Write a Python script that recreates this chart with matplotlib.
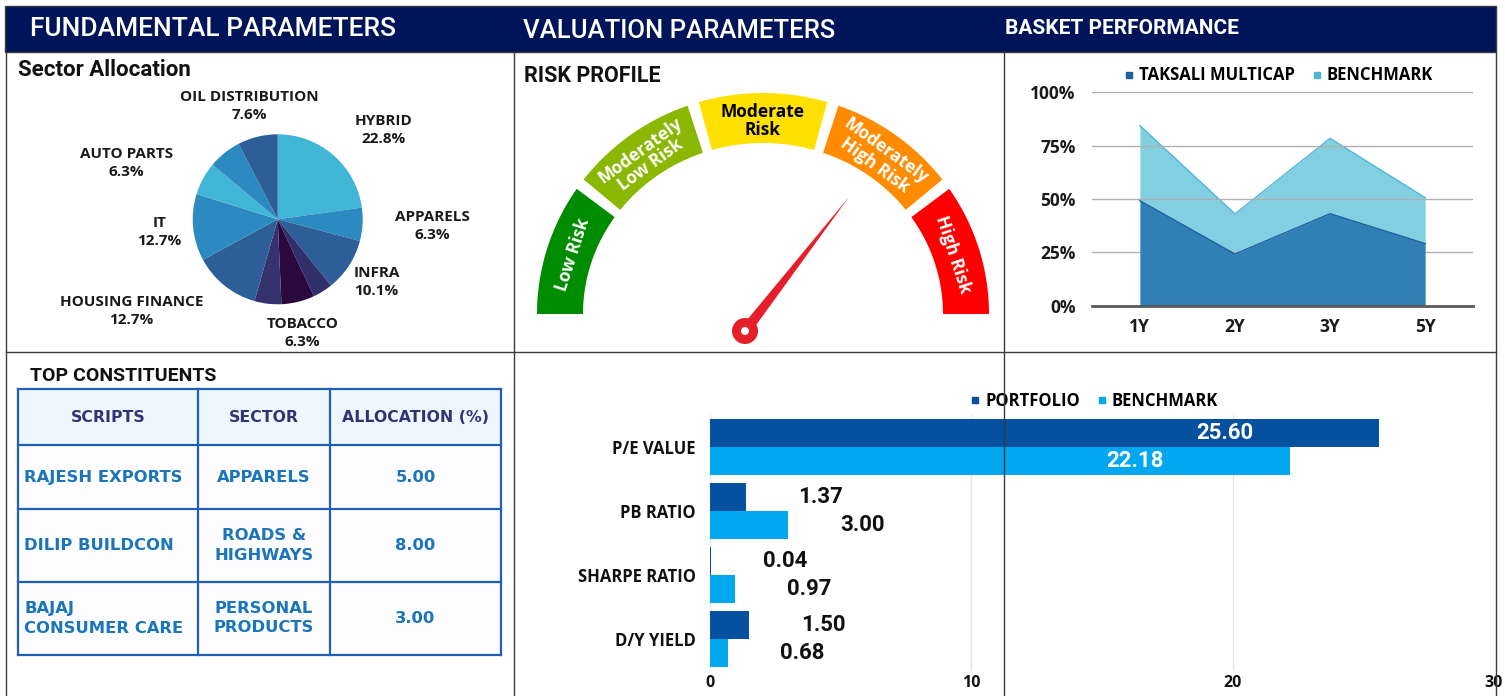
import matplotlib
matplotlib.use('Agg')
import matplotlib.pyplot as plt
from matplotlib.patches import Rectangle, Polygon, Circle
from matplotlib.lines import Line2D
import numpy as np

W, H = 1505, 696

# ---------------- data ----------------
sector_labels = ['HYBRID', 'APPARELS', 'INFRA', '', 'TOBACCO', '', 'HOUSING FINANCE',
                 'IT', 'AUTO PARTS', '', 'OIL DISTRIBUTION']
sector_values = [22.8, 6.3, 10.1, 3.8, 6.3, 5.1, 12.7, 12.7, 6.3, 6.3, 7.6]
sector_colors = ['#40B5D6', '#2C8AC0', '#2D5E97', '#31306A', '#2A0A3E', '#35336E',
                 '#2D5E97', '#2C8AC0', '#40B5D6', '#2C8AC0', '#2D5E97']

risk_levels = ['Low Risk', 'Moderately\nLow Risk', 'Moderate\nRisk',
               'Moderately\nHigh Risk', 'High Risk']
risk_colors = ['#008C00', '#8AB800', '#FFE000', '#FF8C00', '#FF0000']
risk_text_colors = ['white', 'white', 'black', 'white', 'white']
risk_value = 0.71   # needle position, fraction of the dial

perf_periods = ['1Y', '2Y', '3Y', '5Y']
taksali_perf = [49.2, 24.2, 43.1, 29.1]
benchmark_perf = [35.2, 18.8, 35.3, 21.5]

table_headers = ['SCRIPTS', 'SECTOR', 'ALLOCATION (%)']
scripts = ['RAJESH EXPORTS', 'DILIP BUILDCON', 'BAJAJ\nCONSUMER CARE']
script_sectors = ['APPARELS', 'ROADS &\nHIGHWAYS', 'PERSONAL\nPRODUCTS']
allocations = [5.00, 8.00, 3.00]

val_metrics = ['P/E VALUE', 'PB RATIO', 'SHARPE RATIO', 'D/Y YIELD']
portfolio_vals = [25.60, 1.37, 0.04, 1.50]
benchmark_vals = [22.18, 3.00, 0.97, 0.68]

# ---------------- fonts ----------------
FS = ['Open Sans', 'DejaVu Sans']
FR = ['Roboto', 'DejaVu Sans']
FT = ['DejaVu Sans']

fig = plt.figure(figsize=(W / 100, H / 100), dpi=100)
fig.patch.set_facecolor('white')


def px_axes(x0, y0, x1, y1):
    return fig.add_axes([x0 / W, 1 - y1 / H, (x1 - x0) / W, (y1 - y0) / H])


bg = fig.add_axes([0, 0, 1, 1])
bg.set_xlim(0, W)
bg.set_ylim(H, 0)
bg.axis('off')

# header band
bg.add_patch(Rectangle((5, 6), 1491, 46, facecolor='#00145A', edgecolor='#3a3a3a', lw=1))
bg.text(30, 29, 'FUNDAMENTAL PARAMETERS', color='white', fontsize=19, family=FR,
        fontweight='medium', va='center', ha='left')
bg.text(523, 31, 'VALUATION PARAMETERS', color='white', fontsize=18.5, family=FR,
        fontweight='medium', va='center', ha='left')
bg.text(1005, 29, 'BASKET PERFORMANCE', color='white', fontsize=15, family=FR,
        fontweight='bold', va='center', ha='left')

# section titles
bg.text(18, 70, 'Sector Allocation', fontsize=16, family=FR, fontweight='bold',
        va='center', ha='left', color='#111111')
bg.text(524, 76, 'RISK PROFILE', fontsize=15.5, family=FR, fontweight='bold',
        va='center', ha='left', color='#111111')
bg.text(30, 376, 'TOP CONSTITUENTS', fontsize=14, family=FR, fontweight='bold',
        va='center', ha='left', color='#111111')

# ---------------- pie ----------------
pax = px_axes(6, 53, 513, 351)
cx, cy = 277.7, H - 219.3
pax.pie(sector_values, colors=sector_colors, startangle=90, counterclock=False,
        center=(cx, cy), radius=85, wedgeprops=dict(linewidth=0))
pax.set_aspect('auto')
pax.set_xlim(6, 513)
pax.set_ylim(H - 351, H - 53)
pax.axis('off')
label_offsets = [(106, 89), (155, -7), (99, -63), None, (25, -114), None,
                 (-146, -92), (-118, -13), (-151, 56), None, (-28, 113)]
for name, v, off in zip(sector_labels, sector_values, label_offsets):
    if not name:
        continue
    pax.text(cx + off[0], cy + off[1], f'{name}\n{v:.1f}%', ha='center', va='center',
             fontsize=11, fontweight='bold', family=FS, color='#1a1a1a', linespacing=1.35)

# ---------------- gauge ----------------
gcx, gcy = 763, 314
rxo, ryo, rxi, ryi = 226, 221, 180, 171
bounds = np.linspace(180, 0, len(risk_levels) + 1)
half_gap = 1.5


def arc_poly(a0, a1, n=80):
    t = np.radians(np.linspace(a0, a1, n))
    outer = np.c_[gcx + rxo * np.cos(t), gcy - ryo * np.sin(t)]
    inner = np.c_[gcx + rxi * np.cos(t[::-1]), gcy - ryi * np.sin(t[::-1])]
    return np.vstack([outer, inner])


for i, (lab, col, tcol) in enumerate(zip(risk_levels, risk_colors, risk_text_colors)):
    a0 = bounds[i] - (half_gap if i > 0 else 0)
    a1 = bounds[i + 1] + (half_gap if i < len(risk_levels) - 1 else 0)
    bg.add_patch(Polygon(arc_poly(a0, a1), closed=True, facecolor=col, edgecolor='none'))
    am = (bounds[i] + bounds[i + 1]) / 2
    rm_x = (rxo + rxi) / 2 - 3
    rm_y = (ryo + ryi) / 2 - 3
    tx = gcx + rm_x * np.cos(np.radians(am))
    ty = gcy - rm_y * np.sin(np.radians(am))
    bg.text(tx, ty, lab, rotation=am - 90, rotation_mode='anchor', ha='center', va='center',
            color=tcol, fontsize=12.5, fontweight='bold', family=FS, linespacing=1.0)

# needle
pvx, pvy = 745, 331
na = np.radians(180 * (1 - risk_value))
L = 170
tip = (pvx + L * np.cos(na), pvy - L * np.sin(na))
perp = np.array([np.sin(na), np.cos(na)])
b1 = np.array([pvx, pvy]) + 5.5 * perp
b2 = np.array([pvx, pvy]) - 5.5 * perp
bg.add_patch(Polygon([b1, tip, b2], closed=True, facecolor='#E61E2A', edgecolor='none'))
bg.add_patch(Circle((pvx, pvy), 13, facecolor='#E61E2A', edgecolor='none'))
bg.add_patch(Circle((pvx, pvy), 4, facecolor='white', edgecolor='none'))

# ---------------- area chart ----------------
aax = px_axes(1092.3, 92.3, 1472.7, 305.7)
xs = np.arange(len(perf_periods))
tak = np.array(taksali_perf)
ben = np.array(benchmark_perf)
aax.fill_between(xs, tak, tak + ben, color='#83CFE2', lw=0, zorder=2)
aax.plot(xs, tak + ben, color='#4DB6D6', lw=1, zorder=2.1)
aax.set_axisbelow(False)
aax.grid(axis='y', color='#b0b0b0', lw=1)
aax.fill_between(xs, 0, tak, color='#3180B5', lw=0, zorder=3)
aax.plot(xs, tak, color='#1E5F9C', lw=1, zorder=3.1)
aax.set_xlim(-0.5, len(perf_periods) - 0.5)
aax.set_ylim(0, 100)
aax.set_yticks([0, 25, 50, 75, 100])
aax.set_yticklabels([f'{v}%' for v in [0, 25, 50, 75, 100]])
aax.set_xticks(xs)
aax.set_xticklabels(perf_periods)
for s in ['top', 'right', 'left']:
    aax.spines[s].set_visible(False)
aax.spines['bottom'].set_color('#595959')
aax.spines['bottom'].set_linewidth(2)
aax.spines['bottom'].set_zorder(5)
aax.tick_params(length=0, labelsize=12.5, pad=12)
aax.tick_params(axis='x', pad=9, labelsize=12.5)
for t in aax.get_xticklabels() + aax.get_yticklabels():
    t.set_fontweight('bold')
    t.set_family(FS)
    t.set_color('#1a1a1a')
h1 = Line2D([], [], marker='s', ls='none', color='#1E5F9C', markersize=4)
h2 = Line2D([], [], marker='s', ls='none', color='#4DB6D6', markersize=4)
aax.legend([h1, h2], ['TAKSALI MULTICAP', 'BENCHMARK'], loc='lower center',
           bbox_to_anchor=(0.49, 0.99), ncol=2, frameon=False, handlelength=0.6,
           handletextpad=0.3, columnspacing=1.0, borderpad=0.1,
           prop=dict(family=FS, weight='bold', size=12))

# ---------------- table ----------------
col_x = [18.3, 198, 330, 501]
row_y = [389.3, 445, 509.3, 581.7, 655]
border = '#1F5FB8'
bg.add_patch(Rectangle((col_x[0], row_y[0]), col_x[-1] - col_x[0], row_y[1] - row_y[0],
                       facecolor='#EEF6FE', edgecolor='none'))
bg.add_patch(Rectangle((col_x[0], row_y[1]), col_x[-1] - col_x[0], row_y[-1] - row_y[1],
                       facecolor='#FDFCFF', edgecolor='none'))
for x in col_x:
    bg.plot([x, x], [row_y[0], row_y[-1]], color=border, lw=1.6)
for y in row_y:
    bg.plot([col_x[0], col_x[-1]], [y, y], color=border, lw=1.6)
for j, htxt in enumerate(table_headers):
    bg.text((col_x[j] + col_x[j + 1]) / 2, (row_y[0] + row_y[1]) / 2, htxt, ha='center',
            va='center', fontsize=11.3, fontweight='bold', family=FT, color='#2F3573')
for i in range(len(scripts)):
    ymid = (row_y[i + 1] + row_y[i + 2]) / 2
    bg.text(col_x[0] + 6, ymid, scripts[i], ha='left', va='center', fontsize=11.8,
            fontweight='bold', family=FT, color='#1B75BB', linespacing=1.45)
    bg.text((col_x[1] + col_x[2]) / 2, ymid, script_sectors[i], ha='center', va='center',
            fontsize=11.8, fontweight='bold', family=FT, color='#1B75BB', linespacing=1.35)
    bg.text((col_x[2] + col_x[3]) / 2, ymid, f'{allocations[i]:.2f}', ha='center',
            va='center', fontsize=11.8, fontweight='bold', family=FT, color='#1B75BB')

# ---------------- bar chart ----------------
bax = px_axes(709.8, 415, 1494, 671)
ys = np.arange(len(val_metrics))
bh = 0.4375
bax.barh(ys - bh / 2, portfolio_vals, height=bh, color='#05509F', zorder=2)
bax.barh(ys + bh / 2, benchmark_vals, height=bh, color='#02A8EF', zorder=2)
bax.set_xlim(0, 30)
bax.set_ylim(len(val_metrics) - 0.5, -0.5)
bax.set_xticks([0, 10, 20, 30])
bax.set_yticks(ys)
bax.set_yticklabels(val_metrics)
bax.grid(axis='x', color='#e6e6e6', lw=1)
bax.set_axisbelow(True)
for s in bax.spines.values():
    s.set_visible(False)
bax.tick_params(length=0, labelsize=12)
bax.tick_params(axis='y', pad=10)
bax.tick_params(axis='x', pad=3, labelsize=11.5)
for t in bax.get_xticklabels() + bax.get_yticklabels():
    t.set_fontweight('bold')
    t.set_family(FS)
    t.set_color('#111111')
for vals, off in [(portfolio_vals, -bh / 2), (benchmark_vals, bh / 2)]:
    for y, v in zip(ys, vals):
        if v > 10:
            bax.text(v - 4.8, y + off, f'{v:.2f}', ha='right', va='center', color='white',
                     fontsize=16, fontweight='bold', family=FR, zorder=4)
        else:
            bax.text(v + 2.0, y + off, f'{v:.2f}', ha='left', va='center', color='#111111',
                     fontsize=16, fontweight='bold', family=FR, zorder=4)
g1 = Line2D([], [], marker='s', ls='none', color='#05509F', markersize=4)
g2 = Line2D([], [], marker='s', ls='none', color='#02A8EF', markersize=4)
bax.legend([g1, g2], ['PORTFOLIO', 'BENCHMARK'], loc='lower center',
           bbox_to_anchor=(0.49, 0.98), ncol=2, frameon=False, handlelength=0.6,
           handletextpad=0.3, columnspacing=1.0, borderpad=0.1,
           prop=dict(family=FS, weight='bold', size=12))

# ---------------- overlay borders ----------------
ov = fig.add_axes([0, 0, 1, 1])
ov.set_xlim(0, W)
ov.set_ylim(H, 0)
ov.axis('off')
lc = '#3a3a3a'
for x in [6, 514, 1003.5, 1496]:
    ov.plot([x, x], [52, H], color=lc, lw=1)
ov.plot([6, 1496], [352, 352], color=lc, lw=1)

fig.savefig('out.png', dpi=100, facecolor='white')
